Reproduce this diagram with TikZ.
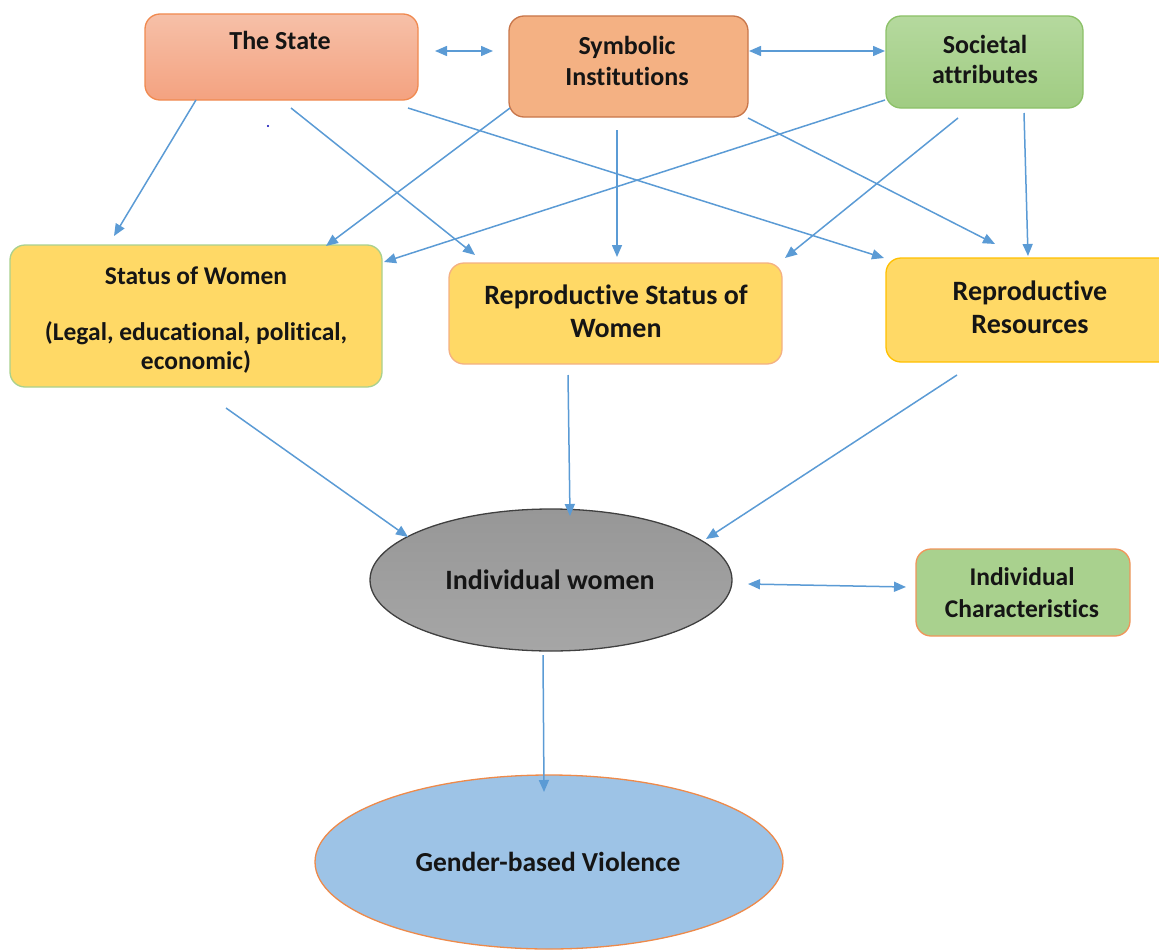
\documentclass[tikz,border=0pt]{standalone}
\usepackage{fontspec}
\setmainfont{Carlito}[Ligatures=NoCommon]
\usetikzlibrary{shapes.geometric,arrows.meta}
\definecolor{arrowblue}{HTML}{5B9BD5}
\definecolor{stateTop}{HTML}{F6C0A8}
\definecolor{stateBot}{HTML}{F4A280}
\definecolor{stateLine}{HTML}{F08A50}
\definecolor{symFill}{HTML}{F4B183}
\definecolor{symLine}{HTML}{C8764A}
\definecolor{socTop}{HTML}{B5D99E}
\definecolor{socBot}{HTML}{A0CC82}
\definecolor{socLine}{HTML}{8CC168}
\definecolor{yel}{HTML}{FFD966}
\definecolor{swLine}{HTML}{A9D18E}
\definecolor{rswLine}{HTML}{F4B183}
\definecolor{rrLine}{HTML}{FFC000}
\definecolor{grayTop}{HTML}{979797}
\definecolor{grayBot}{HTML}{A6A6A6}
\definecolor{grayLine}{HTML}{404040}
\definecolor{icFill}{HTML}{A9D18E}
\definecolor{icLine}{HTML}{F0955A}
\definecolor{gbvFill}{HTML}{9DC3E6}
\definecolor{gbvLine}{HTML}{EE8A4A}
\definecolor{txtcol}{HTML}{151515}
\tikzset{
  box/.style={rectangle, rounded corners=15pt, inner sep=0pt, line width=1.3pt},
  oval/.style={ellipse, inner sep=0pt, line width=1.3pt},
  lbl/.style={anchor=base, inner sep=0pt, font=\fontsize{26}{30}\selectfont\bfseries, text=txtcol},
  lblm/.style={lbl, font=\fontsize{25.5}{30}\selectfont\bfseries},
  lblb/.style={lbl, font=\fontsize{28}{32}\selectfont\bfseries},
  arr/.style={draw=arrowblue, line width=1.5pt, -{Triangle[length=12pt,width=10pt]}},
  darr/.style={draw=arrowblue, line width=1.5pt, {Triangle[length=12pt,width=10pt]}-{Triangle[length=12pt,width=10pt]}}
}
\begin{document}
\begin{tikzpicture}[x=1pt,y=-1pt]
\useasboundingbox (0,0) rectangle (1159,950);
% boxes
\node[box, draw=stateLine, top color=stateTop, bottom color=stateBot, minimum width=273pt, minimum height=86pt] (state) at (281.5,57) {};
\node[box, draw=symLine, fill=symFill, minimum width=239pt, minimum height=101pt] (sym) at (628.5,66.5) {};
\node[box, draw=socLine, top color=socTop, bottom color=socBot, minimum width=197pt, minimum height=92pt] (soc) at (984.5,62) {};
\node[box, draw=swLine, fill=yel, minimum width=372pt, minimum height=142pt] (sw) at (196,316) {};
\node[box, draw=rswLine, fill=yel, minimum width=333pt, minimum height=101pt] (rsw) at (615.5,313.5) {};
\node[box, draw=rrLine, fill=yel, minimum width=289pt, minimum height=104pt] (rr) at (1030.5,310) {};
\node[oval, draw=grayLine, top color=grayTop, bottom color=grayBot, minimum width=362pt, minimum height=142pt] (iw) at (551,580) {};
\node[box, draw=icLine, fill=icFill, minimum width=214pt, minimum height=87pt] (ic) at (1023,592.5) {};
\node[oval, draw=gbvLine, fill=gbvFill, minimum width=468pt, minimum height=174pt] (gbv) at (549,862) {};
% labels
\node[lbl] (stateT) at (280,49) {The State};
\node[lbl] (symT1) at (627,55) {Symbolic};
\node[lbl] (symT2) at (627,85) {Institutions};
\node[lbl] (socT1) at (985,54) {Societal};
\node[lbl] (socT2) at (985,84) {attributes};
\node[lblm] (swT1) at (196,284) {Status of Women};
\node[lblm] (swT2) at (196,340) {(Legal, educational, political,};
\node[lblm] (swT3) at (196,369) {economic)};
\node[lblb] (rswT1) at (616,304) {Reproductive Status of};
\node[lblb] (rswT2) at (616,337) {Women};
\node[lblb] (rrT1) at (1030,300) {Reproductive};
\node[lblb] (rrT2) at (1030,333) {Resources};
\node[lblb] (iwT) at (550,589) {Individual women};
\node[lblm] (icT1) at (1022,585) {Individual};
\node[lblm] (icT2) at (1022,617) {Characteristics};
\node[lbl, font=\fontsize{27.5}{32}\selectfont\bfseries] (gbvT) at (548,871) {Gender-based Violence};
% stray dot
\fill[blue!70!black] (268,126) circle (1.2pt);
% connectors
\draw[darr] ([shift={(153.5,-6)}]state.center) -- ([shift={(-135.5,-15.5)}]sym.center);
\draw[darr] ([shift={(120.5,-15.5)}]sym.center) -- ([shift={(-99.5,-11)}]soc.center);
\draw[arr] ([shift={(-85.5,43)}]state.center) -- ([shift={(-82,-80)}]sw.center);
\draw[arr] ([shift={(9.5,51)}]state.center) -- ([shift={(-140.5,-58.5)}]rsw.center);
\draw[arr] ([shift={(126.5,51)}]state.center) -- ([shift={(-146.5,-52)}]rr.center);
\draw[arr] ([shift={(-118.5,41.5)}]sym.center) -- ([shift={(130,-70)}]sw.center);
\draw[arr] ([shift={(-11.5,63.5)}]sym.center) -- ([shift={(1.5,-56.5)}]rsw.center);
\draw[arr] ([shift={(119.5,51.5)}]sym.center) -- ([shift={(-35.5,-66)}]rr.center);
\draw[arr] ([shift={(-99.5,38)}]soc.center) -- ([shift={(188,-54)}]sw.center);
\draw[arr] ([shift={(-26.5,56)}]soc.center) -- ([shift={(169.5,-55.5)}]rsw.center);
\draw[arr] ([shift={(39.5,51)}]soc.center) -- ([shift={(-2.5,-54)}]rr.center);
\draw[arr] ([shift={(30,92)}]sw.center) -- ([shift={(-143,-43)}]iw.center);
\draw[arr] ([shift={(-47.5,61.5)}]rsw.center) -- ([shift={(19,-64)}]iw.center);
\draw[arr] ([shift={(-73.5,65)}]rr.center) -- ([shift={(155,-41)}]iw.center);
\draw[darr] ([shift={(197,4)}]iw.center) -- ([shift={(-117,-5.5)}]ic.center);
\draw[arr] ([shift={(-8,75)}]iw.center) -- ([shift={(-5,-70)}]gbv.center);
\end{tikzpicture}
\end{document}
